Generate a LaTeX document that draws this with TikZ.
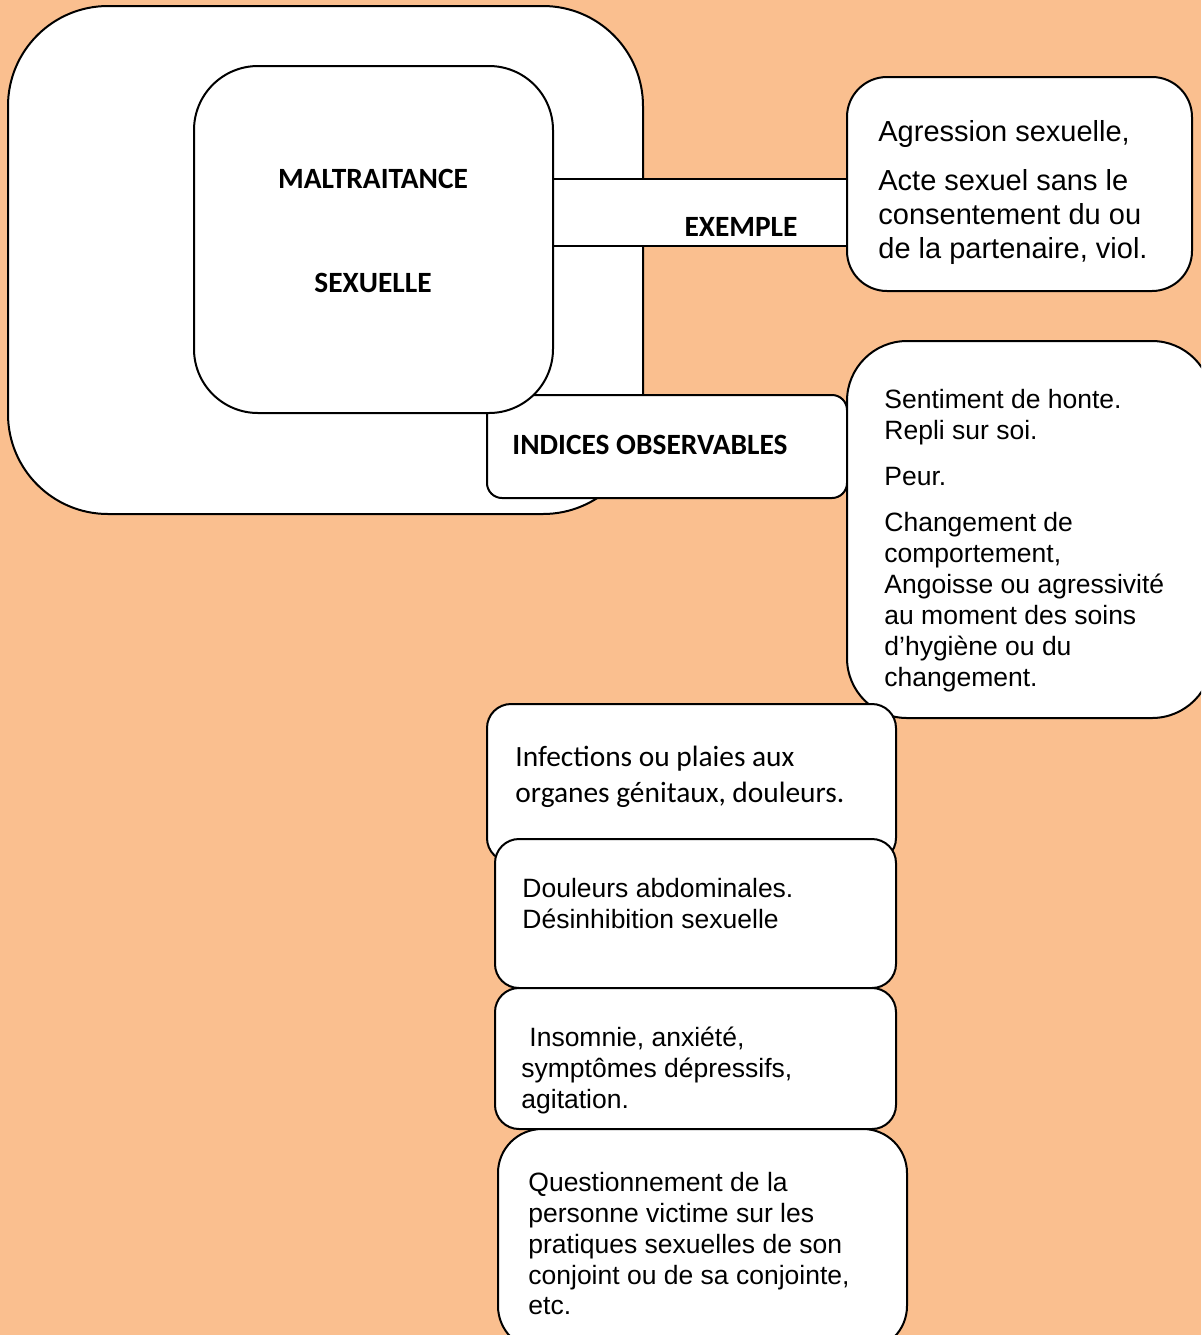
\documentclass[tikz,border=0pt]{standalone}
\usepackage{fontspec}
\setmainfont{Liberation Sans}
\newfontfamily\calibri{Carlito}
\definecolor{fond}{HTML}{FABF8F}
\tikzset{
  boite/.style={draw=black, line width=1pt, fill=white},
  titre/.style={font=\calibri\bfseries\fontsize{14.7}{17}\selectfont, inner sep=0pt},
  texte/.style={align=left, anchor=north west, inner sep=0pt, font=\fontsize{13.25}{15.5}\selectfont},
}
\begin{document}
\begin{tikzpicture}[x=0.5pt,y=-0.5pt]
    \fill[fond] (0,0) rectangle (1201,1335);
    \useasboundingbox (0,0) rectangle (1201,1335);
    \clip (0,0) rectangle (1201,1335);
    % cadres de gauche
    \draw[boite, rounded corners=50pt] (8,6) rectangle (643,514);
    \draw[boite, rounded corners=7.5pt] (487,395) rectangle (847,498);
    \fill[white] (553,179) rectangle (848,246);
    \draw[line width=1pt] (553,179) -- (848,179);
    \draw[line width=1pt] (553,246) -- (848,246);
    \draw[boite, rounded corners=32pt] (194,66) rectangle (553,413);
    \node[titre] (maltr) at (373,179) {MALTRAITANCE};
    \node[titre] (sexu) at (373,283) {SEXUELLE};
    \node[titre] (exemple) at (741,227) {EXEMPLE};
    \node[titre] (indices) at (650,445) {INDICES OBSERVABLES};
    % cadres de droite
    \draw[boite, rounded corners=20pt] (847,77) rectangle (1192,291);
    \node[texte, font=\fontsize{14.5}{17}\selectfont] (agress) at (878,120)
        {Agression sexuelle,\\[7.5pt] Acte sexuel sans le\\ consentement du ou\\ de la partenaire, viol.};
    \draw[boite, rounded corners=30pt] (847,341) rectangle (1212,718);
    \node[texte] (honte) at (884,389)
        {Sentiment de honte.\\ Repli sur soi.\\[7.5pt] Peur.\\[7.5pt] Changement de\\ comportement,\\ Angoisse ou agressivité\\ au moment des soins\\ d’hygiène ou du\\ changement.};
    % cadres du bas
    \draw[boite, rounded corners=12pt] (487,704) rectangle (896,862);
    \node[texte, font=\calibri\fontsize{14.7}{18}\selectfont] (infect) at (515,746)
        {Infections ou plaies aux\\ organes génitaux, douleurs.};
    \draw[boite, rounded corners=12pt] (495,839) rectangle (896,988);
    \node[texte] (doul) at (522,878) {Douleurs abdominales.\\ Désinhibition sexuelle};
    \draw[boite, rounded corners=12pt] (495,988) rectangle (896,1129);
    \node[texte, font=\fontsize{13.25}{15.3}\selectfont] (insom) at (521,1027) {\hspace*{4pt}Insomnie, anxiété,\\ symptômes dépressifs,\\ agitation.};
    \draw[boite, rounded corners=22pt] (498,1129) rectangle (907,1350);
    \node[texte, font=\fontsize{13.25}{15.4}\selectfont] (quest) at (528,1172)
        {Questionnement de la\\ personne victime sur les\\ pratiques sexuelles de son\\ conjoint ou de sa conjointe,\\ etc.};
\end{tikzpicture}
\end{document}
